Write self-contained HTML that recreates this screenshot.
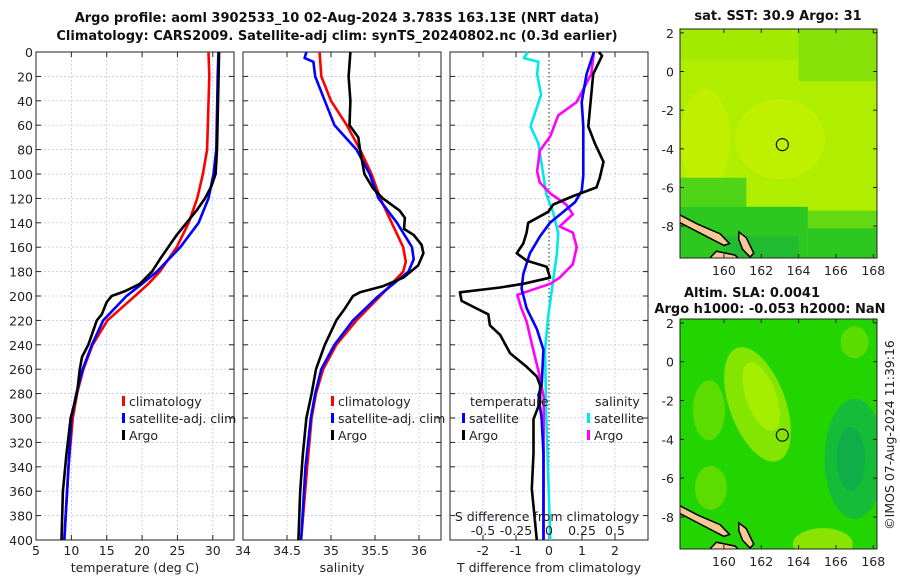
<!DOCTYPE html>
<html><head><meta charset="utf-8"><style>
body{margin:0;background:#fff}
svg{display:block;font-family:"DejaVu Sans","Liberation Sans",sans-serif}
text{fill:#222}
.t{font-size:12.5px}
.b{font-weight:bold;font-size:13px;fill:#111}
</style></head><body>
<svg id="c" width="900" height="580" viewBox="0 0 900 580">
<text class="b" x="337" y="22" text-anchor="middle">Argo profile: aoml 3902533_10 02-Aug-2024 3.783S 163.13E (NRT data)</text>
<text class="b" x="337" y="40" text-anchor="middle">Climatology: CARS2009. Satellite-adj clim: synTS_20240802.nc (0.3d earlier)</text>
<g id="p1"></g>
<g id="p2"></g>
<g id="p3"></g>
<g id="m1"></g>
<g id="m2"></g>
<text class="b" x="778" y="20" text-anchor="middle">sat. SST: 30.9 Argo: 31</text>
<text class="b" x="752" y="297" text-anchor="middle">Altim. SLA: 0.0041</text>
<text class="b" x="770" y="313" text-anchor="middle">Argo h1000: -0.053 h2000: NaN</text>
<text class="t" transform="translate(894,435) rotate(-90)" text-anchor="middle">©IMOS 07-Aug-2024 11:39:16</text>
</svg>
<script>
// depth levels shared by profiles
const dT = [0,20,80,100,120,140,160,180,190,200,220,240,260,280,300,340,400];
const tClim = [29.4,29.5,29.2,28.6,27.8,26.6,24.9,22.5,20.9,19.0,15.1,13.0,11.7,10.8,10.2,9.6,9.0];
const tSat = [30.8,30.7,30.5,30.1,29.4,28.0,25.4,22.1,20.0,17.8,14.5,12.9,11.6,10.7,10.0,9.6,9.0];
const dTA = [0,80,100,110,120,130,140,150,160,170,180,190,196,200,205,215,220,240,250,260,280,300,330,360,400];
const tArgo = [30.9,30.6,30.4,29.8,28.9,27.7,26.3,24.9,23.7,22.5,21.4,19.7,17.6,15.7,15.0,14.3,13.6,12.4,11.5,11.2,10.8,9.9,9.3,8.8,8.6];
const dS = [0,20,40,60,80,100,120,140,160,172,180,190,200,220,240,260,280,300,340,400];
const sClim = [34.87,34.89,35.0,35.18,35.33,35.46,35.56,35.69,35.82,35.85,35.82,35.69,35.56,35.29,35.06,34.91,34.83,34.78,34.73,34.66];
const dSS = [0,5,8,20,40,60,80,100,120,140,160,170,180,190,200,220,240,260,280,300,340,400];
const sSat = [34.72,34.70,34.80,34.82,34.93,35.04,35.29,35.44,35.54,35.75,35.92,35.94,35.88,35.71,35.54,35.25,35.04,34.89,34.82,34.77,34.71,34.66];
const dSA = [0,20,40,60,70,80,100,112,120,130,136,145,150,158,165,175,185,192,197,200,210,220,240,260,280,300,330,360,400];
const sArgo = [35.22,35.20,35.22,35.21,35.31,35.33,35.38,35.48,35.59,35.78,35.84,35.83,35.94,36.03,36.05,35.99,35.82,35.59,35.33,35.25,35.16,35.06,34.93,34.83,34.78,34.72,34.68,34.65,34.63];
const dDB = [0,18,41,61,101,114,123,140,151,165,182,194,210,227,244,273,281,301,329,400];
const dTsat = [1.36,1.14,0.99,1.04,1.04,0.99,0.79,0.03,-0.27,-0.58,-0.78,-0.83,-0.68,-0.37,-0.17,-0.22,-0.32,-0.22,-0.17,-0.17];
const dDK = [0,3,18,61,75,90,103,111,118,125,131,140,148,157,165,171,176,185,190,193,197,204,213,215,224,232,247,258,266,273,287,301,329,358,400];
const dTargo = [1.51,1.61,1.34,1.19,1.39,1.65,1.54,1.44,0.74,0.13,-0.02,-0.63,-0.68,-0.78,-0.98,-0.68,-0.07,0.03,-0.78,-1.48,-2.70,-2.65,-1.99,-1.84,-1.79,-1.48,-1.18,-0.68,-0.37,-0.27,-0.27,-0.47,-0.47,-0.52,-0.37];
const dDC = [0,5,8,18,35,61,75,103,117,131,148,165,188,216,244,301,400];
const dSsat = [-0.16,-0.19,-0.08,-0.09,-0.06,-0.14,-0.08,-0.04,-0.02,0.03,0.07,0.06,0.03,-0.005,-0.03,-0.02,0.01];
const dDM = [0,18,41,52,69,81,98,107,116,125,133,143,148,160,174,185,190,199,210,221,244,266,283,301,400];
const dSargo = [0.34,0.32,0.21,0.07,0.01,-0.07,-0.09,-0.07,0.01,0.13,0.18,0.08,0.18,0.21,0.18,0.08,0.01,-0.24,-0.21,-0.17,-0.12,-0.07,-0.04,-0.04,-0.04];
const depthTicks = [0,20,40,60,80,100,120,140,160,180,200,220,240,260,280,300,320,340,360,380,400];
const tTicks = [5,10,15,20,25,30];
const sTicks = [34,34.5,35,35.5,36];
const dTTicks = [-2,-1,0,1,2];
const dSTicks = [-0.5,-0.25,0,0.25,0.5];
const latTicks = [2,0,-2,-4,-6,-8];
const lonTicks = [160,162,164,166,168];

const NS='http://www.w3.org/2000/svg';
function el(p,tag,a){const e=document.createElementNS(NS,tag);for(const k in a)e.setAttribute(k,a[k]);p.appendChild(e);return e;}
const Y0=52,Y1=540;
const yD=d=>Y0+(d/400)*(Y1-Y0);
function panel(g,x0,x1,xmin,xmax,ticks,gridTicks,label,showDepth){
  const xs=v=>x0+(v-xmin)/(xmax-xmin)*(x1-x0);
  depthTicks.forEach(d=>{
    if(d>0&&d<400){const l=el(g,'line',{x1:x0,x2:x1,y1:yD(d),y2:yD(d),stroke:'#b8c0e8','stroke-width':0.7,'stroke-dasharray':'2,2'});
    
    }
    el(g,'line',{x1:x0,x2:x0+5,y1:yD(d),y2:yD(d),stroke:'#222'});
    el(g,'line',{x1:x1-5,x2:x1,y1:yD(d),y2:yD(d),stroke:'#222'});
    if(showDepth){const t=el(g,'text',{x:x0-3,y:yD(d)+5,'text-anchor':'end',class:'t'});t.textContent=d;
    
    }
  });
  gridTicks.forEach(v=>{const x=xs(v);if(x>x0+1&&x<x1-1){const l=el(g,'line',{x1:x,x2:x,y1:Y0,y2:Y1,stroke:'#b8c0e8','stroke-width':0.7,'stroke-dasharray':'2,2'});
    
    }});
  ticks.forEach(v=>{const x=xs(v);el(g,'line',{x1:x,x2:x,y1:Y1,y2:Y1-5,stroke:'#222'});el(g,'line',{x1:x,x2:x,y1:Y0,y2:Y0+5,stroke:'#222'});
    const t=el(g,'text',{x:x,y:555,'text-anchor':'middle',class:'t'});t.textContent=v;
    
    });
  const r=el(g,'rect',{x:x0,y:Y0,width:x1-x0,height:Y1-Y0,fill:'none',stroke:'#222','stroke-width':1});
  
  
  const lt=el(g,'text',{x:(x0+x1)/2,y:572,'text-anchor':'middle',class:'t'});lt.textContent=label;
  
  
  return xs;
}
function line(g,xs,ds,vs,col,name,w){
  const pts=ds.map((d,i)=>xs(vs[i]).toFixed(1)+','+yD(d).toFixed(1)).join(' ');
  const p=el(g,'polyline',{points:pts,fill:'none',stroke:col,'stroke-width':w||2.6,'stroke-linejoin':'round'});
  
  
}
function legend(g,x,y,items){
  items.forEach((it,i)=>{const yy=y+i*17;
    el(g,'rect',{x:x,y:yy-10,width:3,height:10,fill:it[1]});
    const t=el(g,'text',{x:x+7,y:yy,class:'t'});t.textContent=it[0];
    
    });
}
const p1=document.getElementById('p1');
const x1s=panel(p1,36,234,5,33,tTicks,[10,15,20,25,30],'temperature (deg C)',true);
line(p1,x1s,dT,tClim,'#f00','temp-climatology-line');
line(p1,x1s,dT,tSat,'#00f','temp-satellite-line');
line(p1,x1s,dTA,tArgo,'#000','temp-argo-line');
legend(p1,122,406,[['climatology','#f00'],['satellite-adj. clim','#00f'],['Argo','#000']]);
const p2=document.getElementById('p2');
const x2s=panel(p2,243,441,34,36.25,sTicks,[34.5,35,35.5,36],'salinity',false);
line(p2,x2s,dS,sClim,'#f00','sal-climatology-line');
line(p2,x2s,dSS,sSat,'#00f','sal-satellite-line');
line(p2,x2s,dSA,sArgo,'#000','sal-argo-line');
legend(p2,331,406,[['climatology','#f00'],['satellite-adj. clim','#00f'],['Argo','#000']]);
const p3=document.getElementById('p3');
const x3s=panel(p3,450,648,-3,3,dTTicks,[-2,-1,1,2],'T difference from climatology',false);
const xSs=v=>549+v*132;
el(p3,'line',{x1:549,x2:549,y1:Y0,y2:Y1,stroke:'#222','stroke-dasharray':'1.5,2.5'});
line(p3,xSs,dDC,dSsat,'#00e8e8','sal-diff-satellite-line');
line(p3,xSs,dDM,dSargo,'#f0f','sal-diff-argo-line');
line(p3,x3s,dDB,dTsat,'#00f','temp-diff-satellite-line');
line(p3,x3s,dDK,dTargo,'#000','temp-diff-argo-line');
{let t=el(p3,'text',{x:470,y:406,class:'t'});t.textContent='temperature';


t=el(p3,'text',{x:595,y:406,class:'t'});t.textContent='salinity';

}
legend(p3,462,423,[['satellite','#00f'],['Argo','#000']]);
legend(p3,587,423,[['satellite','#00e8e8'],['Argo','#f0f']]);
{let t=el(p3,'text',{x:547,y:521,'text-anchor':'middle',class:'t'});t.textContent='S difference from climatology';

}
dSTicks.forEach(v=>{const t=el(p3,'text',{x:xSs(v),y:535,'text-anchor':'middle',class:'t'});t.textContent=v;

});

// maps
function map(g,y0,y1,kind){
  const X0=680,X1=877,lon0=157.65,lon1=168.2,lat0=2.2,lat1=-9.65;
  const lx=v=>X0+(v-lon0)/(lon1-lon0)*(X1-X0);
  const ly=v=>y0+(v-lat0)/(lat1-lat0)*(y1-y0);
  const clip='cl'+kind;const cp=el(g,'clipPath',{id:clip});el(cp,'rect',{x:X0,y:y0,width:X1-X0,height:y1-y0});
  const mg=el(g,'g',{'clip-path':'url(#'+clip+')'});
  const R=(a,b,c,d,f,n)=>{const r=el(mg,'rect',{x:lx(a),y:ly(b),width:lx(c)-lx(a),height:ly(d)-ly(b),fill:f});};
  const E=(cx,cy,rx,ry,f,n,rot)=>{const e=el(mg,'ellipse',{cx:lx(cx),cy:ly(cy),rx:rx,ry:ry,fill:f,transform:'rotate('+(rot||0)+' '+lx(cx)+' '+ly(cy)+')'});};
  if(kind==='sst'){
    R(157,3,169,-10,'#b0ee00','sst-field');
    R(157,3,169,0.6,'#a2ea00','sst-north-band');
    R(164,3,169,-0.5,'#86e208','sst-northeast');
    E(159,-3.5,25,50,'#c0f000','sst-warm-west');
    E(163,-3.5,45,40,'#bef000','sst-warm-center');
    R(157,-5.5,161.2,-10,'#50d418','sst-cool-sw');
    R(157,-7,164.5,-10,'#2cc820','sst-cool-south');
    R(164.5,-8.1,169,-10,'#2cc820','sst-cool-se');
    R(164.5,-7.2,169,-8.1,'#64d810','sst-se-transition');
    R(160,-8.5,164,-10,'#22bc30','sst-deep-south');
  } else {
    R(157,3,169,-10,'#22d400','sla-field');
    E(161.8,-2.2,28,60,'#84e600','sla-high-ridge',-20);
    E(162,-1.8,15,36,'#a6ee00','sla-high-core',-20);
    E(159.2,-2.5,16,30,'#5cdc00','sla-west');
    E(159.3,-6.5,16,22,'#5cdc00','sla-southwest');
    E(167,-5,30,60,'#14bc38','sla-low-east');
    E(166.8,-5,14,32,'#10ae48','sla-low-core');
    E(165.3,-9.4,30,16,'#88e400','sla-south-high');
    E(167,1,14,16,'#5adc00','sla-northeast');
  }
  // land
  const land=(pts,n)=>{const p=el(mg,'polygon',{points:pts.map(q=>lx(q[0])+','+ly(q[1])).join(' '),fill:'#f5c896',stroke:'#000','stroke-width':1.5});};
  land([[157.6,-7.4],[158.6,-7.9],[159.8,-8.4],[160.3,-8.9],[160.0,-9.0],[158.8,-8.4],[157.6,-7.8]],'island-choiseul');
  land([[160.8,-8.3],[161.2,-8.6],[161.6,-9.4],[161.4,-9.6],[161.0,-9.2],[160.8,-8.7]],'island-malaita');
  land([[159.6,-9.3],[160.6,-9.5],[161.0,-9.9],[159.6,-10],[159.3,-9.6]],'island-guadalcanal');
  const c=el(g,'circle',{cx:lx(163.13),cy:ly(-3.783),r:6,fill:'none',stroke:'#111','stroke-width':1.2});
  
  
  const fr=el(g,'rect',{x:X0,y:y0,width:X1-X0,height:y1-y0,fill:'none',stroke:'#222'});
  
  
  latTicks.forEach(v=>{const y=ly(v);el(g,'line',{x1:X0,x2:X0+4,y1:y,y2:y,stroke:'#222'});el(g,'line',{x1:X1-4,x2:X1,y1:y,y2:y,stroke:'#222'});
    const t=el(g,'text',{x:X0-6,y:y+5,'text-anchor':'end',class:'t'});t.textContent=v;
    
    });
  lonTicks.forEach(v=>{const x=lx(v);el(g,'line',{x1:x,x2:x,y1:y1,y2:y1-4,stroke:'#222'});el(g,'line',{x1:x,x2:x,y1:y0,y2:y0+4,stroke:'#222'});
    const t=el(g,'text',{x:x,y:y1+17,'text-anchor':'middle',class:'t'});t.textContent=v;
    
    });
}
map(document.getElementById('m1'),29,258,'sst');
map(document.getElementById('m2'),319,549,'sla');
</script>
</body></html>
